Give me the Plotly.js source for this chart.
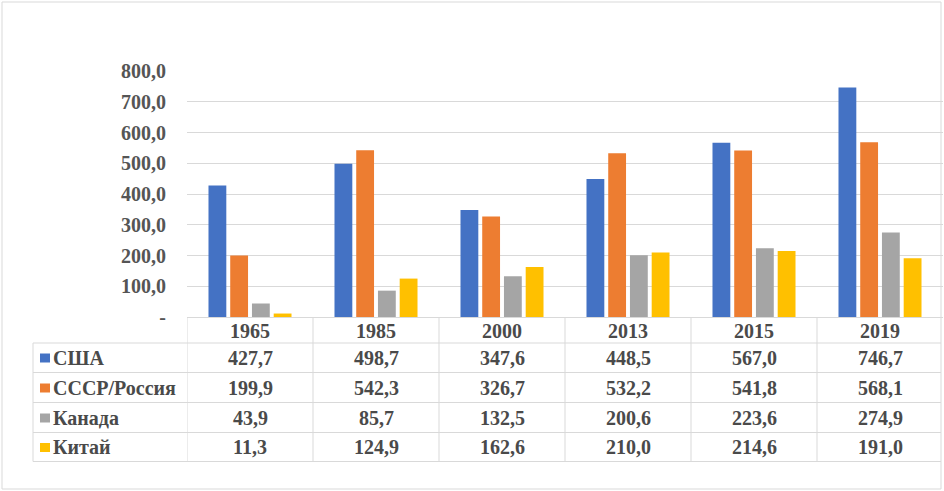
<!DOCTYPE html>
<html><head><meta charset="utf-8">
<script src="https://cdn.plot.ly/plotly-3.0.1.min.js"></script>
<style>body{margin:0;padding:0;background:#fff}#chart{width:944px;height:491px}</style>
</head><body><div id="chart"></div>
<script>
const years = ['1965','1985','2000','2013','2015','2019'];
const seriesNames = ['США','СССР/Россия','Канада','Китай'];
const usa = [427.7, 498.7, 347.6, 448.5, 567.0, 746.7];
const russia = [199.9, 542.3, 326.7, 532.2, 541.8, 568.1];
const canada = [43.9, 85.7, 132.5, 200.6, 223.6, 274.9];
const china = [11.3, 124.9, 162.6, 210.0, 214.6, 191.0];
const yTickVals = [0,100,200,300,400,500,600,700,800];
const yTickText = ['-','100,0','200,0','300,0','400,0','500,0','600,0','700,0','800,0'];

const colors = ['#4472C4','#ED7D31','#A5A5A5','#FFC000'];
const allSeries = [usa, russia, canada, china];
const W = 944, H = 491;
const py = p => 1 - p / H;
const px = p => p / W;
const fmt = v => v.toFixed(1).replace('.', ',');

const traces = allSeries.map((s, i) => ({
  type: 'bar', x: years, y: s, name: seriesNames[i],
  marker: {color: colors[i]}, hoverinfo: 'none'
}));

const FAM = 'Liberation Serif';
const font = {family: FAM, size: 20, color: '#4a4a4a'};
const gridColor = '#D9D9D9';
const annotations = [];
const shapes = [];

const headerY = 330.5;
const rowY = [357.5, 387.5, 417.5, 447];
years.forEach((yr, j) => {
  annotations.push({xref: 'x', yref: 'paper', x: j, y: py(headerY), text: '<b>' + yr + '</b>', showarrow: false, font: font, xanchor: 'center', yanchor: 'middle'});
  allSeries.forEach((s, i) => {
    annotations.push({xref: 'x', yref: 'paper', x: j, y: py(rowY[i]), text: '<b>' + fmt(s[j]) + '</b>', showarrow: false, font: font, xanchor: 'center', yanchor: 'middle'});
  });
});
seriesNames.forEach((n, i) => {
  annotations.push({xref: 'paper', yref: 'paper', x: px(51), y: py(rowY[i]), text: '<b>' + n + '</b>', showarrow: false, font: font, xanchor: 'left', yanchor: 'middle'});
  shapes.push({type: 'rect', xref: 'paper', yref: 'paper', x0: px(40), x1: px(50), y0: py(rowY[i] - 4), y1: py(rowY[i] + 5), fillcolor: colors[i], line: {width: 0}});
});

const hLines = [343, 372.5, 402.5, 432.5, 461.5];
hLines.forEach(y => shapes.push({type: 'line', xref: 'paper', yref: 'paper', x0: px(33), x1: px(941), y0: py(y), y1: py(y), line: {color: gridColor, width: 1}}));
shapes.push({type: 'line', xref: 'paper', yref: 'paper', x0: px(33), x1: px(33), y0: py(343), y1: py(461.5), line: {color: gridColor, width: 1}});
for (let j = 0; j < years.length; j++) {
  shapes.push({type: 'line', xref: 'x', yref: 'paper', x0: j - 0.5, x1: j - 0.5, y0: py(317), y1: py(461.5), line: {color: gridColor, width: 1}});
}
shapes.push({type: 'rect', xref: 'paper', yref: 'paper', x0: px(2), x1: px(941), y0: py(489), y1: py(2), line: {color: '#D9D9D9', width: 1}});

const layout = {
  width: W, height: H,
  margin: {l: 0, r: 0, t: 0, b: 0},
  paper_bgcolor: '#fff', plot_bgcolor: '#fff',
  font: {family: FAM},
  showlegend: false,
  barmode: 'group', bargap: 0.31, bargroupgap: 0.18,
  xaxis: {domain: [px(187), px(943)], range: [-0.5, 5.5], type: 'category', showticklabels: false, showgrid: false, zeroline: false, showline: false, ticks: ''},
  yaxis: {domain: [py(317), py(71)], range: [0, 800], tickvals: yTickVals, ticktext: yTickText.map(t => '<b>' + t + '</b>'),
    showgrid: true, gridcolor: gridColor, gridwidth: 1, zeroline: true, zerolinecolor: gridColor, zerolinewidth: 1,
    ticks: 'outside', ticklen: 16, tickcolor: 'rgba(0,0,0,0)', tickfont: {family: FAM, size: 20, color: '#555555'}},
  annotations: annotations,
  shapes: shapes
};
Plotly.newPlot('chart', traces, layout, {staticPlot: true, displayModeBar: false});
</script></body></html>
